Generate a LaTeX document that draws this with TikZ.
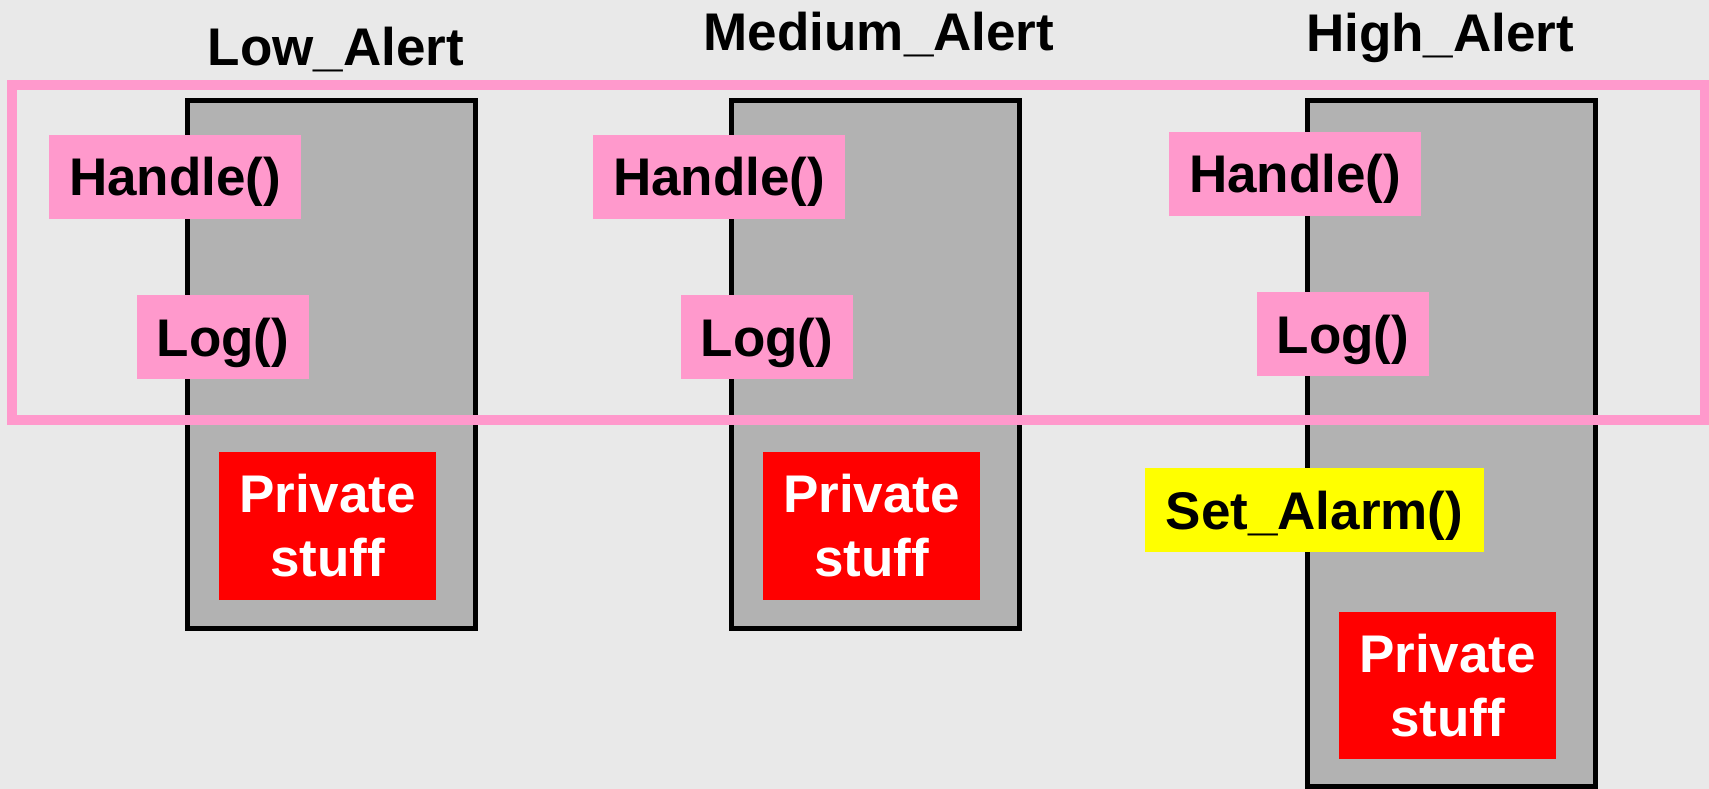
\documentclass[tikz,border=0pt]{standalone}
\usepackage{fontspec}
\setmainfont{Liberation Sans}
\definecolor{bgc}{HTML}{E9E9E9}
\definecolor{ifacepink}{HTML}{FF99CC}
\definecolor{classgray}{HTML}{B2B2B2}
\definecolor{privred}{HTML}{FF0000}
\definecolor{alarmyellow}{HTML}{FFFF00}
\tikzset{
  bigfont/.style={font=\fontsize{53}{64}\selectfont\bfseries},
  classbox/.style={draw=black, line width=5pt, fill=classgray, minimum width=288pt, inner sep=0pt},
  iface/.style={draw=ifacepink, line width=10pt, inner sep=0pt},
  method/.style={bigfont, fill=ifacepink, inner sep=0pt, minimum height=84pt, text height=38pt, text depth=0pt},
  alarm/.style={method, fill=alarmyellow},
  private/.style={bigfont, fill=privred, text=white, align=center, inner sep=0pt, minimum width=217pt, minimum height=148pt},
  classtitle/.style={bigfont, anchor=base, inner sep=0pt}
}
\begin{document}
\begin{tikzpicture}[x=1pt, y=-1pt]
  % canvas
  \fill[bgc] (0,0) rectangle (1709,789);
  \useasboundingbox (0,0) rectangle (1709,789);

  % class titles
  \node[classtitle] (lowtitle) at (336,66) {Low\_Alert};
  \node[classtitle] (medtitle) at (879,51) {Medium\_Alert};
  \node[classtitle] (hightitle) at (1440,52) {High\_Alert};

  % class bodies
  \node[classbox, minimum height=528pt] (lowbox) at (331.5,364.5) {};
  \node[classbox, minimum height=528pt] (medbox) at (875.5,364.5) {};
  \node[classbox, minimum height=686pt] (highbox) at (1451.5,443.5) {};

  % shared interface frame
  \node[iface, minimum width=1693pt, minimum height=335pt] (interface) at (858.5,252.5) {};

  % public methods
  \node[method, minimum width=252pt] (lowhandle) at (175,177) {Handle()};
  \node[method, minimum width=172pt] (lowlog) at (223,337) {Log()};
  \node[method, minimum width=252pt] (medhandle) at (719,177) {Handle()};
  \node[method, minimum width=172pt] (medlog) at (767,337) {Log()};
  \node[method, minimum width=252pt] (highhandle) at (1295,174) {Handle()};
  \node[method, minimum width=172pt] (highlog) at (1343,334) {Log()};
  \node[alarm, minimum width=339pt] (setalarm) at (1314.5,510) {Set\_Alarm()};

  % private parts
  \node[private] (lowpriv) at (327.5,526) {Private\\stuff};
  \node[private] (medpriv) at (871.5,526) {Private\\stuff};
  \node[private, minimum height=147pt] (highpriv) at (1447.5,685.5) {Private\\stuff};
\end{tikzpicture}
\end{document}
